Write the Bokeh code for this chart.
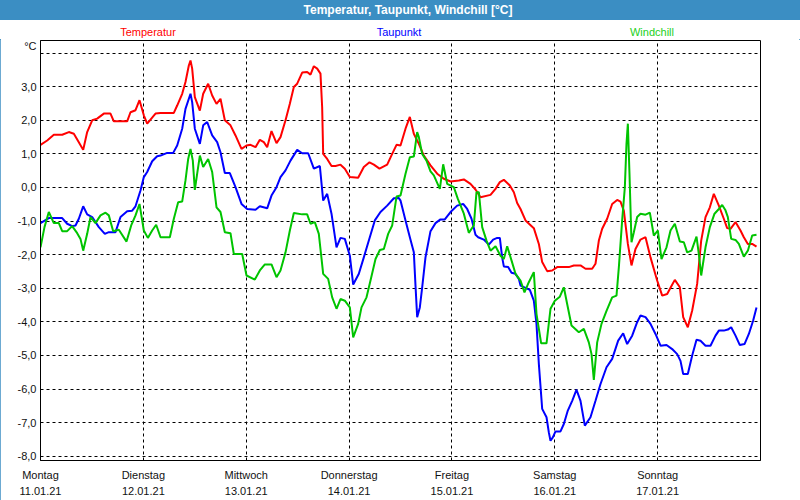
from bokeh.plotting import figure
from bokeh.models import Range1d, FixedTicker, Div
from bokeh.layouts import column
from bokeh.embed import file_html
from bokeh.resources import INLINE

# ---- data -------------------------------------------------------------
chart_title = "Temperatur, Taupunkt, Windchill [°C]"
day_names = ["Montag", "Dienstag", "Mittwoch", "Donnerstag", "Freitag", "Samstag", "Sonntag"]
day_dates = ["11.01.21", "12.01.21", "13.01.21", "14.01.21", "15.01.21", "16.01.21", "17.01.21"]
day_ticks = [0, 24, 48, 72, 96, 120, 144]  # hours since Monday 00:00

grid_y = [-8, -7, -6, -5, -4, -3, -2, -1, 0, 1, 2, 3, 4]
y_ticks = [-8, -7, -6, -5, -4, -3, -2, -1, 0, 1, 2, 3, 4.2]
y_tick_labels = ["-8,0", "-7,0", "-6,0", "-5,0", "-4,0", "-3,0", "-2,0", "-1,0",
                 "0,0", "1,0", "2,0", "3,0", "°C"]

temp_hours = [0, 1.56, 3.11, 5.06, 6.61, 7.78, 8.94, 9.96, 10.89, 12.06, 13.22, 14.78, 16.33,
              17.11, 20.22, 21.0, 22.17, 23.1, 24.11, 24.89, 26.83,
              28, 31.11, 31.89, 33.06, 33.83, 34.61, 35.0, 35.39, 36.01, 37.18, 37.96, 39.12,
              40.06, 41.07, 42.0, 43.01, 44.33, 45.5, 46.9, 48.07, 49.0, 50.17, 51.18, 52.11,
              52.89, 53.9, 55.07,
              56, 57.17, 58.18, 59.11, 59.89, 61.06, 62.22, 63.0, 63.78, 64.56, 65.33, 65.72,
              65.96, 66.89, 67.9, 68.83, 70.0, 71.01, 72.18, 74.12, 75.44, 76.77, 77.78, 79.1,
              80.89, 82.06, 83.07,
              84, 85.17, 86.18, 87.11, 88.28, 89.44, 91.0, 92.56, 94.11, 95.67, 97.61, 98.78,
              100.33, 101.5, 102.67, 105.0, 106.17, 107.18, 108.11, 109.51, 110.45, 111.22,
              112, 113.17, 115.11, 116.28, 117.06, 118.22, 119.39, 120.56, 122.11, 123.28,
              124.44, 126.0, 127.17, 128.72, 129.5, 130.28, 131.06, 132.22, 133.39, 134.56,
              135.33, 136.11, 137.05, 137.9, 138.83,
              140, 141.17, 142.33, 143.89, 145.06, 146.22, 147.16, 148.01, 149.18, 149.96,
              151.04, 152.06, 153.22, 154.16, 155.17, 156.18, 157.11, 158.28, 159.44, 160.22,
              161.0, 162.17, 163.33, 164.11, 165.05, 166.06, 167.07]
temp_values = [1.27, 1.40, 1.57, 1.57, 1.65, 1.60, 1.35, 1.12, 1.65, 2.0, 2.05, 2.2, 2.2,
               1.97, 1.97, 2.24, 2.3, 2.6, 2.15, 1.9, 2.2,
               2.22, 2.22, 2.44, 2.79, 3.14, 3.63, 3.78, 3.54, 2.69, 2.29, 2.79, 3.09,
               2.74, 2.49, 2.64, 2.0, 1.85, 1.55, 1.15, 1.25, 1.27, 1.2, 1.42, 1.35,
               1.2, 1.68, 1.32,
               1.5, 2.0, 2.49, 2.99, 3.09, 3.42, 3.44, 3.36, 3.61, 3.54, 3.39, 2.39,
               1.0, 0.85, 0.64, 0.64, 0.68, 0.56, 0.31, 0.29, 0.61, 0.75, 0.68, 0.56,
               0.68, 1.0, 1.27,
               1.25, 1.75, 2.1, 1.6, 1.3, 0.95, 0.66, 0.41, 0.26, 0.18, 0.21, 0.24,
               0.11, -0.06, -0.29, -0.22, -0.04, 0.16, 0.23, 0.06, -0.14, -0.46,
               -0.64, -0.98, -1.21, -1.68, -2.22, -2.49, -2.47, -2.37, -2.37, -2.37,
               -2.32, -2.32, -2.42, -2.42, -2.27, -1.58, -1.23, -0.93, -0.49, -0.37,
               -0.42, -0.69, -1.68, -2.32, -1.83,
               -1.55, -1.48, -2.08, -2.77, -3.22, -3.17, -2.95, -2.75, -2.97, -3.86,
               -4.16, -3.66, -2.87, -1.58, -0.88, -0.59, -0.19, -0.54, -0.93, -1.21,
               -1.23, -1.03, -1.28, -1.48, -1.68, -1.68, -1.76]

dew_hours = [0, 1.94, 5.06, 6.22, 7.39, 8.17, 8.94, 9.96, 10.89, 12.06, 13.61, 15.01, 15.94,
             17.5, 18.67, 20.22, 21.39, 22.17, 23.33, 24.11, 24.89, 26.06, 27.22,
             28, 29.56, 30.96, 31.89, 33.06, 33.83, 35.0, 35.39, 36.01, 37.18, 37.96, 38.89,
             40.06, 41.22, 42.0, 43.01, 44.18, 45.5, 46.9, 48.22, 50.17, 51.18, 52.89, 53.9,
             55.07,
             56, 57.17, 58.33, 59.89, 61.06, 62.46, 63.78, 65.18, 65.96, 66.89, 67.9, 69.07,
             70.0, 71.01, 72.18, 72.96, 74.28, 75.44, 76.61, 78.01, 79.33, 80.89, 82.45, 83.61,
             84, 85.17, 86.18, 87.11, 87.5, 87.89, 88.51, 89.06, 89.83, 91.0, 92.17, 93.33,
             94.34, 95.67, 97.22, 98.62, 99.56, 100.57, 101.5, 102.12, 103.44, 104.61, 105.62,
             106.56, 107.18, 107.72, 108.11, 109.12, 109.9, 110.83, 111.61,
             112, 113.17, 114.18, 115.11, 115.73, 116.28, 117.06, 118.07, 118.61, 119.0,
             119.54, 120.17, 121.33, 122.11, 123.04, 124.06, 125.07, 126.0, 127.01, 128.33,
             129.5, 130.67, 132.07, 133.39, 134.79, 135.96, 136.89, 138.06, 139.22,
             140, 141.17, 142.33, 143.5, 144.67, 146.07, 147.39, 148.56, 149.33, 149.96,
             151.04, 152.06, 153.07, 154.0, 155.17, 156.33, 157.5, 158.28, 159.44, 160.38,
             161.16, 162.17, 163.18, 164.27, 165.28, 166.29, 167.07]
dew_values = [-1.06, -0.91, -0.91, -1.08, -1.15, -1.13, -0.93, -0.56, -0.8, -0.88, -1.18, -1.38,
              -1.33, -1.33, -0.88, -0.71, -0.69, -0.56, -0.09, 0.31, 0.46, 0.78, 0.93,
              0.95, 1.03, 1.03, 1.25, 1.75, 2.34, 2.79, 2.54, 1.75, 1.3, 1.85, 1.95,
              1.55, 1.35, 1.05, 0.43, 0.43, 0.01, -0.49, -0.64, -0.66, -0.56, -0.62, -0.24,
              0.01,
              0.31, 0.51, 0.8, 1.12, 1.02, 1.02, 0.56, 0.64, -0.39, -0.19, -0.78, -1.78,
              -1.5, -1.53, -2.03, -2.89, -2.57, -2.08, -1.58, -0.98, -0.73, -0.54, -0.32, -0.31,
              -0.39, -0.98, -1.48, -1.93, -2.92, -3.86, -3.57, -2.97, -2.08, -1.3, -1.06, -0.95,
              -0.95, -0.73, -0.54, -0.49, -0.64, -0.93, -1.41, -1.48, -1.55, -1.7, -1.55,
              -1.5, -1.5, -2.08, -2.35, -2.37, -2.54, -2.57, -2.72,
              -2.92, -2.99, -3.05, -3.37, -4.06, -5.25, -6.59, -6.84, -7.29, -7.54,
              -7.44, -7.26, -7.26, -7.04, -6.64, -6.35, -6.02, -6.35, -7.09, -6.84,
              -6.35, -5.85, -5.35, -5.1, -4.56, -4.34, -4.66, -4.41, -4.01,
              -3.81, -3.86, -4.06, -4.36, -4.71, -4.69, -4.81, -4.96, -5.16, -5.55,
              -5.55, -5.0, -4.53, -4.56, -4.71, -4.71, -4.41, -4.26, -4.26, -4.23,
              -4.16, -4.41, -4.69, -4.66, -4.36, -3.96, -3.57]

chill_hours = [0, 0.93, 1.94, 3.11, 4.28, 5.06, 6.22, 7.39, 8.56, 9.33, 9.96, 10.89, 11.67,
               12.83, 14.0, 15.17, 15.94, 16.96, 18.28, 20.07, 21.16, 22.17, 23.1, 24.11,
               25.05, 26.06, 26.99,
               28, 30.18, 31.11, 32.12, 33.06, 33.83, 34.46, 35.0, 35.54, 36.01, 36.56, 37.18,
               37.96, 39.12, 40.06, 41.07, 42.0, 43.01, 44.33, 45.11, 47.06, 48.07, 50.01,
               51.18, 52.35, 53.9, 55.07,
               56, 57.17, 58.18, 59.11, 61.06, 62.22, 63.0, 64.01, 64.94, 65.96, 67.12, 68.06,
               69.07, 70.0, 71.01, 72.18, 72.96, 74.12, 74.9, 76.07, 77.0, 78.17, 79.18, 80.11,
               81.12, 82.06, 83.07,
               84, 85.17, 86.18, 87.11, 87.89, 88.28, 89.06, 90.07, 91.0, 91.78, 93.18, 93.96,
               94.89, 96.44, 97.38, 98.78, 99.94, 101.11, 101.73, 102.28, 103.06, 104.07, 105.0,
               106.17, 107.33, 108.11, 108.89, 109.9, 110.83,
               112, 112.93, 113.94, 115.11, 115.73, 116.82, 118.07, 119.0, 120.01, 121.18,
               122.11, 122.89, 123.9, 125.61, 126.78, 127.94, 128.57, 129.11, 129.89, 130.9,
               132.07, 133.39, 134.4, 134.95, 135.72, 136.35, 136.73, 137.05, 137.43, 137.9,
               138.45, 139.22,
               140, 141.17, 142.18, 143.11, 144.04, 144.9, 146.07, 147.0, 148.01, 149.18,
               150.11, 150.89, 151.9, 153.07, 153.61, 154.16, 155.17, 156.18, 157.27, 158.28,
               159.06, 159.83, 160.38, 161.16, 162.17, 162.95, 164.11, 165.05, 166.06, 167.07]
chill_values = [-1.78, -1.18, -0.73, -1.06, -1.06, -1.3, -1.3, -1.15, -1.36, -1.53, -1.88, -1.38,
                -0.88, -1.06, -0.83, -0.75, -0.83, -1.3, -1.26, -1.61, -1.13, -0.83, -0.49,
                -1.28, -1.5, -1.28, -1.11,
                -1.48, -1.48, -0.93, -0.44, -0.42, 0.21, 0.85, 1.15, 0.8, -0.07, 0.41, 0.95,
                0.61, 0.85, 0.46, -0.59, -0.73, -1.33, -1.36, -1.98, -1.98, -2.62, -2.74,
                -2.47, -2.29, -2.29, -2.67,
                -2.47, -1.93, -1.28, -0.76, -0.8, -0.8, -1.08, -1.03, -1.38, -2.57, -2.72, -3.27,
                -3.61, -3.32, -3.37, -3.57, -4.46, -4.06, -3.57, -3.27, -2.77, -2.13, -1.86, -1.83,
                -1.38, -1.13, -0.27,
                -0.24, 0.41, 0.9, 0.92, 1.65, 1.5, 1.0, 0.8, 0.48, 0.36, -0.04, 0.69,
                0.11, 0.01, -0.34, -0.78, -1.35, -1.13, -0.14, -0.14, -1.18, -1.58, -1.88,
                -1.75, -2.03, -2.13, -1.75, -2.17, -2.57,
                -2.77, -3.12, -2.82, -2.52, -3.76, -4.64, -4.64, -3.61, -3.37, -3.25,
                -2.97, -3.47, -4.11, -4.31, -4.21, -4.61, -4.96, -5.73, -4.61, -4.06,
                -3.67, -3.27, -3.22, -2.37, -0.98, 0.01, 1.3, 1.9, 0.41, -1.63,
                -1.33, -0.88,
                -0.78, -0.81, -0.75, -1.43, -1.28, -2.13, -1.78, -1.28, -1.08, -1.61,
                -1.63, -1.93, -1.88, -1.46, -1.98, -2.62, -1.78, -1.18, -0.78, -0.64,
                -0.52, -0.68, -0.88, -1.53, -1.56, -1.68, -2.06, -1.88, -1.43, -1.41]

series_names = ["Temperatur", "Taupunkt", "Windchill"]
series_colors = ["#ff0000", "#0000ff", "#00c400"]
legend_colors = ["#ff0000", "#0000ff", "#22d022"]

FONT = "Liberation Sans"
W = 800
FRAME_BLUE = "#3b8ec3"

# ---- header: blue title bar + coloured series names ---------------------
legend_center_px = [148, 399, 652]
spans = "".join(
    f'<span style="position:absolute;left:{cx}px;top:25px;line-height:14px;font-size:11px;'
    f'color:{col};transform:translateX(-50%);white-space:nowrap;">{name}</span>'
    for name, col, cx in zip(series_names, legend_colors, legend_center_px)
)
header_html = (
    f'<div style="position:relative;width:{W}px;height:39px;font-family:\'{FONT}\',sans-serif;'
    f'background:white;">'
    f'<div style="position:absolute;left:0;top:0;width:{W}px;height:20px;background:{FRAME_BLUE};'
    f'color:white;font-weight:bold;font-size:12px;line-height:20px;text-align:center;'
    f'text-indent:16px;white-space:nowrap;">{chart_title}</div>'
    f'{spans}</div>'
)
header = Div(text=header_html, width=W, height=39, margin=0)

# ---- figure -----------------------------------------------------------
p = figure(width=W, height=461, output_backend="svg", toolbar_location=None,
           x_range=Range1d(0, 168), y_range=Range1d(-8.127, 4.376),
           min_border_left=40, min_border_right=40, min_border_top=1, min_border_bottom=40,
           background_fill_color="white", border_fill_color="white", margin=0)
p.outline_line_color = "black"
p.outline_line_width = 1

for ax in (p.xaxis[0], p.yaxis[0]):
    ax.axis_line_color = "black"
    ax.major_tick_in = 0
    ax.major_tick_out = 0
    ax.minor_tick_in = 0
    ax.minor_tick_out = 0
    ax.major_label_text_font = FONT
    ax.major_label_text_font_size = "11px"
    ax.major_label_text_color = "#111111"

p.xaxis.ticker = FixedTicker(ticks=day_ticks)
p.xaxis.major_label_overrides = {t: f"{n}\n{d}" for t, n, d in zip(day_ticks, day_names, day_dates)}
p.xaxis.major_label_standoff = 8
p.xaxis.major_label_text_line_height = 1.35
p.yaxis.ticker = FixedTicker(ticks=y_ticks)
p.yaxis.major_label_overrides = {t: lab for t, lab in zip(y_ticks, y_tick_labels)}
p.yaxis.major_label_standoff = 4

p.xgrid.ticker = FixedTicker(ticks=day_ticks)
p.ygrid.ticker = FixedTicker(ticks=grid_y)
for g in (p.xgrid[0], p.ygrid[0]):
    g.grid_line_color = "black"
    g.grid_line_alpha = 1.0
    g.grid_line_width = 1
    g.grid_line_dash = "3 3"

p.line(temp_hours, temp_values, line_color=series_colors[0], line_width=2)
p.line(dew_hours, dew_values, line_color=series_colors[1], line_width=2)
p.line(chill_hours, chill_values, line_color=series_colors[2], line_width=2)

layout = column(header, p, spacing=0,
                styles={"outline": f"1px solid {FRAME_BLUE}", "outline-offset": "-1px"})

with open("out.html", "w") as f:
    f.write(file_html(layout, INLINE))
